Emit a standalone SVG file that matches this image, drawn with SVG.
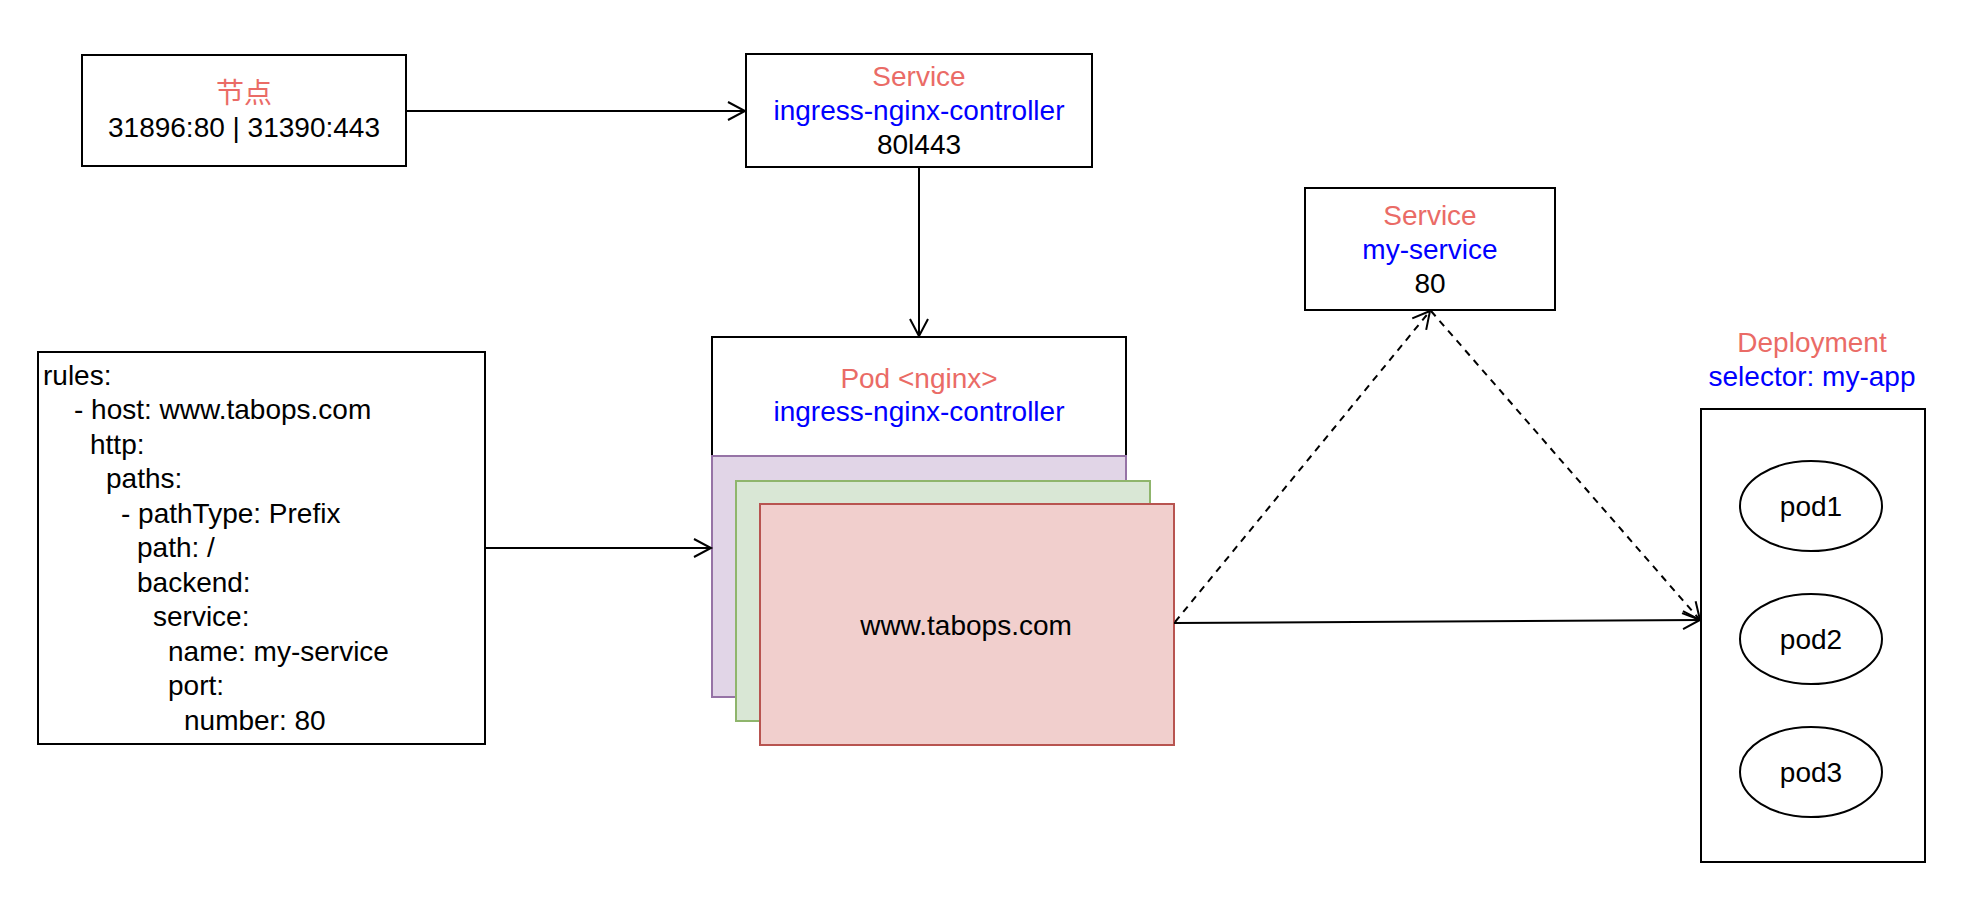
<svg xmlns="http://www.w3.org/2000/svg" width="1970" height="920" viewBox="0 0 1970 920">
<defs>
<style>
text{font-family:"Liberation Sans",Arial,"Noto Sans CJK SC",sans-serif;font-size:28px;fill:#000}
.c{text-anchor:middle}
.red{fill:#EA6B66}
.blue{fill:#0000FF}
.box{fill:#fff;stroke:#000;stroke-width:2}
.ln{fill:none;stroke:#000;stroke-width:2}
.dash{stroke-dasharray:7 6}
</style>
<marker id="arr" markerUnits="userSpaceOnUse" markerWidth="22" markerHeight="22" refX="18" refY="10" orient="auto" overflow="visible">
<path d="M1,1 L18,10 L1,19" fill="none" stroke="#000" stroke-width="2"/>
</marker>
</defs>
<rect width="1970" height="920" fill="#fff"/>

<g id="node-host">
<rect class="box" x="82" y="55" width="324" height="111"/>
<text class="c red" x="244" y="103">节点</text>
<text class="c" x="244" y="137">31896:80 | 31390:443</text>
</g>

<g id="svc-ingress">
<rect class="box" x="746" y="54" width="346" height="113"/>
<text class="c red" x="919" y="86">Service</text>
<text class="c blue" x="919" y="120">ingress-nginx-controller</text>
<text class="c" x="919" y="154">80l443</text>
</g>

<g id="svc-my">
<rect class="box" x="1305" y="188" width="250" height="122"/>
<text class="c red" x="1430" y="225">Service</text>
<text class="c blue" x="1430" y="259">my-service</text>
<text class="c" x="1430" y="293">80</text>
</g>

<g id="rules">
<rect class="box" x="38" y="352" width="447" height="392"/>
<text x="43" y="385">rules:</text>
<text x="74" y="419">- host: www.tabops.com</text>
<text x="90" y="454">http:</text>
<text x="106" y="488">paths:</text>
<text x="121" y="523">- pathType: Prefix</text>
<text x="137" y="557">path: /</text>
<text x="137" y="592">backend:</text>
<text x="153" y="626">service:</text>
<text x="168" y="661">name: my-service</text>
<text x="168" y="695">port:</text>
<text x="184" y="730">number: 80</text>
</g>

<g id="pod-nginx">
<rect x="712" y="337" width="414" height="119" fill="#fff" stroke="#000" stroke-width="2"/>
<rect x="712" y="456" width="414" height="241" fill="#e1d5e7" stroke="#9673a6" stroke-width="2"/>
<rect x="736" y="481" width="414" height="240" fill="#d9e7d5" stroke="#8fb56c" stroke-width="2"/>
<rect x="760" y="504" width="414" height="241" fill="#f1cfcd" stroke="#b85450" stroke-width="2"/>
<text class="c red" x="919" y="388">Pod &lt;nginx&gt;</text>
<text class="c blue" x="919" y="421">ingress-nginx-controller</text>
<text class="c" x="966" y="635">www.tabops.com</text>
</g>

<g id="deployment">
<text class="c red" x="1812" y="352">Deployment</text>
<text class="c blue" x="1812" y="386">selector: my-app</text>
<rect class="box" x="1701" y="409" width="224" height="453"/>
</g>
<g id="pod1">
<ellipse class="box" cx="1811" cy="506" rx="71" ry="45"/>
<text class="c" x="1811" y="516">pod1</text>
</g>
<g id="pod2">
<ellipse class="box" cx="1811" cy="639" rx="71" ry="45"/>
<text class="c" x="1811" y="649">pod2</text>
</g>
<g id="pod3">
<ellipse class="box" cx="1811" cy="772" rx="71" ry="45"/>
<text class="c" x="1811" y="782">pod3</text>
</g>

<g id="connectors">
<line class="ln" x1="406" y1="111" x2="745" y2="111" marker-end="url(#arr)"/>
<line class="ln" x1="919" y1="167" x2="919" y2="336" marker-end="url(#arr)"/>
<line class="ln" x1="485" y1="548" x2="711" y2="548" marker-end="url(#arr)"/>
<line class="ln" x1="1174" y1="623" x2="1700" y2="620" marker-end="url(#arr)"/>
<line class="ln dash" x1="1175" y1="622" x2="1430" y2="311" marker-end="url(#arr)"/>
<line class="ln dash" x1="1431" y1="311" x2="1700" y2="620" marker-end="url(#arr)"/>
</g>
</svg>
